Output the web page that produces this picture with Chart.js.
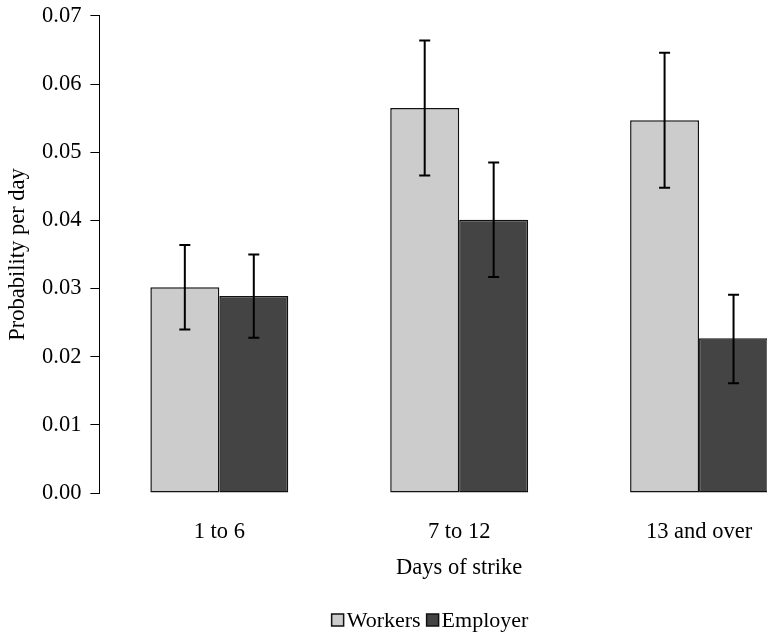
<!DOCTYPE html>
<html>
<head>
<meta charset="utf-8">
<script src="https://cdn.jsdelivr.net/npm/chart.js@4.4.0/dist/chart.umd.min.js"></script>
<style>
  html, body { margin: 0; padding: 0; background: #fff; overflow: hidden; }
  #wrap { width: 860px; height: 633px; }
</style>
</head>
<body>
<div id="wrap"><canvas id="strikeChart"></canvas></div>
<script>
// Probabilidad por día según la duración de la huelga
const categories = ['1 to 6', '7 to 12', '13 and over'];
const workers = [0.0302, 0.0565, 0.0547];
const employer = [0.0289, 0.0401, 0.0227];
const workersLow = [0.0240, 0.0466, 0.0448];
const workersHigh = [0.0364, 0.0664, 0.0646];
const employerLow = [0.0228, 0.0317, 0.0161];
const employerHigh = [0.0350, 0.0485, 0.0291];
const yTicks = [0, 0.01, 0.02, 0.03, 0.04, 0.05, 0.06, 0.07];

const errors = [
  { low: workersLow, high: workersHigh },
  { low: employerLow, high: employerHigh }
];

const fontFamily = '"Liberation Serif", "Times New Roman", serif';
const font = { family: fontFamily, size: 22.5 };

// barras de error dibujadas sobre cada barra
const errorBars = {
  id: 'errorBars',
  afterDatasetsDraw(chart) {
    const ctx = chart.ctx;
    const y = chart.scales.y;
    ctx.save();
    ctx.strokeStyle = '#000';
    ctx.lineWidth = 2;
    chart.data.datasets.forEach((ds, i) => {
      const meta = chart.getDatasetMeta(i);
      meta.data.forEach((bar, j) => {
        const yLo = y.getPixelForValue(errors[i].low[j]);
        const yHi = y.getPixelForValue(errors[i].high[j]);
        const x = bar.x;
        ctx.beginPath();
        ctx.moveTo(x, yLo); ctx.lineTo(x, yHi);
        ctx.moveTo(x - 5.5, yLo); ctx.lineTo(x + 5.5, yLo);
        ctx.moveTo(x - 5.5, yHi); ctx.lineTo(x + 5.5, yHi);
        ctx.stroke();
      });
    });
    ctx.restore();
  }
};

// leyenda compacta (caja pegada al texto)
const compactLegend = {
  id: 'compactLegend',
  afterDraw(chart) {
    const ctx = chart.ctx;
    const box = 12, gapText = 3, gapItem = 6;
    ctx.save();
    ctx.font = '22px ' + fontFamily;
    ctx.textBaseline = 'middle';
    const items = chart.data.datasets.map(ds => ({
      label: ds.label, fill: ds.backgroundColor, w: ctx.measureText(ds.label).width
    }));
    const total = items.reduce((s, it) => s + box + gapText + it.w, 0) + gapItem * (items.length - 1);
    let x = chart.width / 2 - total / 2;
    const y = chart.height - 13;
    items.forEach(it => {
      ctx.fillStyle = it.fill;
      ctx.fillRect(x, y - box / 2, box, box);
      ctx.strokeStyle = '#111';
      ctx.lineWidth = 1.5;
      ctx.strokeRect(x, y - box / 2, box, box);
      ctx.fillStyle = '#000';
      ctx.fillText(it.label, x + box + gapText, y + 1);
      x += box + gapText + it.w + gapItem;
    });
    ctx.restore();
  }
};

const ctxStrike = document.getElementById('strikeChart').getContext('2d');
const strikeChart = new Chart(ctxStrike, {
  type: 'bar',
  data: {
    labels: categories,
    datasets: [{
      label: 'Workers',
      data: workers,
      backgroundColor: '#cccccc',
      borderColor: '#111',
      borderWidth: 1.5,
      borderSkipped: false
    }, {
      label: 'Employer',
      data: employer,
      backgroundColor: '#444444',
      borderColor: '#111',
      borderWidth: 1.5,
      borderSkipped: false
    }]
  },
  options: {
    responsive: true,
    maintainAspectRatio: false,
    animation: false,
    categoryPercentage: 0.575,
    barPercentage: 1,
    layout: { padding: { left: 0, right: 41, top: 0, bottom: 27 } },
    plugins: {
      tooltip: { enabled: false },
      legend: { display: false }
    },
    scales: {
      x: {
        grid: { display: false, drawTicks: false },
        border: { display: false },
        ticks: { font: font, color: '#000', padding: 26 },
        title: {
          display: true,
          text: 'Days of strike',
          font: font,
          color: '#000',
          padding: { top: -17, bottom: 24 }
        }
      },
      y: {
        min: 0,
        max: 0.07,
        afterBuildTicks: (axis) => { axis.ticks = yTicks.map(v => ({ value: v })); },
        grid: { display: true, drawOnChartArea: false, tickLength: 9, color: '#000' },
        border: { display: true, color: '#000', width: 1 },
        ticks: {
          font: { family: fontFamily, size: 22.5, lineHeight: 0.62 },
          color: '#000',
          padding: 9,
          callback: (v) => v.toFixed(2)
        },
        title: {
          display: true,
          text: 'Probability per day',
          font: font,
          color: '#000',
          padding: { top: 5, bottom: 1 }
        }
      }
    }
  },
  plugins: [errorBars, compactLegend]
});
</script>
</body>
</html>
